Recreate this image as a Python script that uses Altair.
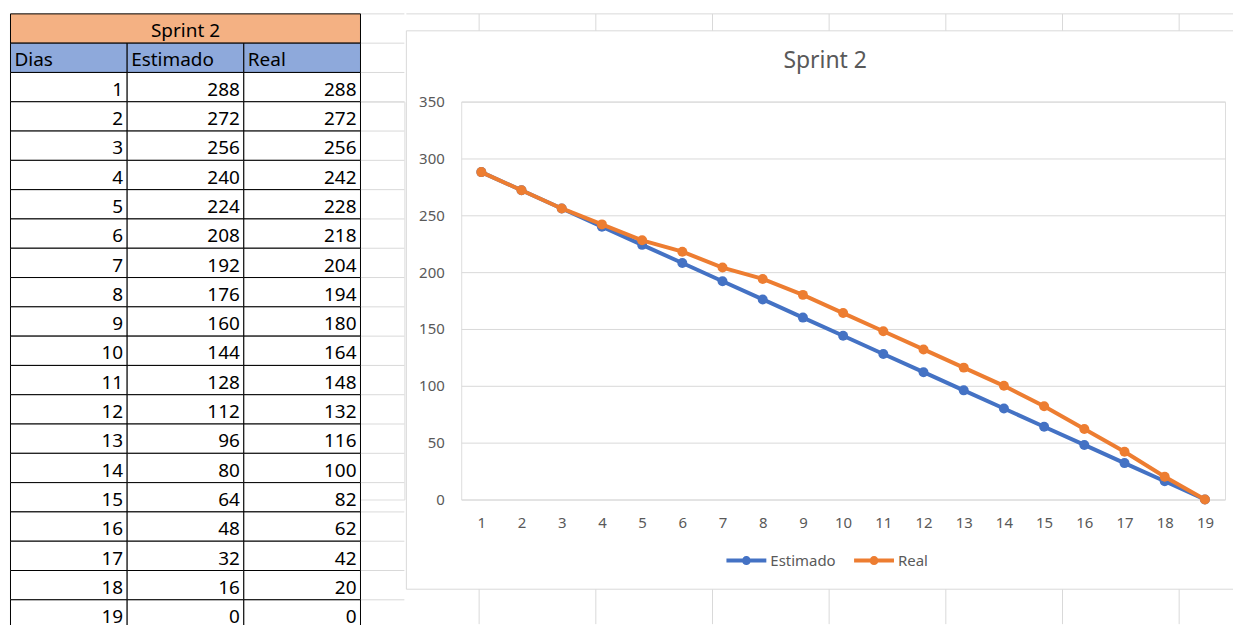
import altair as alt
import pandas as pd

# ---------------- data ----------------
sheet_title = "Sprint 2"
headers = ["Dias", "Estimado", "Real"]
dias = list(range(1, 20))
estimado = [288, 272, 256, 240, 224, 208, 192, 176, 160, 144, 128, 112, 96, 80, 64, 48, 32, 16, 0]
real = [288, 272, 256, 242, 228, 218, 204, 194, 180, 164, 148, 132, 116, 100, 82, 62, 42, 20, 0]
series = ["Estimado", "Real"]
y_ticks = [0, 50, 100, 150, 200, 250, 300, 350]

# ---------------- styles ----------------
BLUE = "#4472C4"
ORANGE = "#ED7D31"
HEAD1 = "#F4B183"
HEAD2 = "#8EA9DB"
GRID = "#D9D9D9"
TXT = "#595959"
FONT = "Noto Sans"

ROW_H = 29.38
COL_W = 117.0
TW = 395          # table panel width (table + gap to chart box)
PW, PH = 766, 399  # plot area of the line chart
TOP = -88          # table top, relative to the plot-area top

# ---------------- table panel ----------------
cells = [dict(c0=0, c1=3, r0=0, r1=1, fill=HEAD1)]
for j, h in enumerate(headers):
    cells.append(dict(c0=j, c1=j + 1, r0=1, r1=2, fill=HEAD2))
for i in range(len(dias)):
    for j in range(3):
        cells.append(dict(c0=j, c1=j + 1, r0=i + 2, r1=i + 3, fill="#FFFFFF"))
cells_df = pd.DataFrame(cells)

xs = alt.Scale(domain=[0, TW / COL_W], nice=False, zero=False)
ys = alt.Scale(domain=[0, 21], range=[TOP, TOP + 21 * ROW_H], nice=False, zero=False)

gap_df = pd.DataFrame({"a": [3.0] * 22, "b": [TW / COL_W] * 22, "r": list(range(22))})
gap_rules = alt.Chart(gap_df).mark_rule(color=GRID, strokeWidth=1).encode(
    x=alt.X("a:Q", scale=xs, axis=None), x2="b",
    y=alt.Y("r:Q", scale=ys, axis=None),
)

rects = alt.Chart(cells_df).mark_rect(stroke="#000000", strokeWidth=1).encode(
    x=alt.X("c0:Q", scale=xs, axis=None), x2="c1",
    y=alt.Y("r0:Q", scale=ys, axis=None), y2="r1",
    fill=alt.Fill("fill:N", scale=None),
)

title_df = pd.DataFrame({"t": [sheet_title], "x": [1.5], "r": [1]})
title_txt = alt.Chart(title_df).mark_text(
    align="center", baseline="alphabetic", dy=-6, font=FONT, fontSize=19, color="#000000"
).encode(x=alt.X("x:Q", scale=xs, axis=None), y=alt.Y("r:Q", scale=ys, axis=None), text="t:N")

head_df = pd.DataFrame({"t": headers, "x": [0, 1, 2], "r": [2, 2, 2]})
head_txt = alt.Chart(head_df).mark_text(
    align="left", baseline="alphabetic", dx=4, dy=-6, font=FONT, fontSize=19, color="#000000"
).encode(x=alt.X("x:Q", scale=xs, axis=None), y=alt.Y("r:Q", scale=ys, axis=None), text="t:N")

vals = []
for i, d in enumerate(dias):
    for j, v in enumerate([d, estimado[i], real[i]]):
        vals.append(dict(t=str(v), x=j + 1, r=i + 3))
vals_df = pd.DataFrame(vals)
val_txt = alt.Chart(vals_df).mark_text(
    align="right", baseline="alphabetic", dx=-4, dy=-6, font=FONT, fontSize=19, color="#000000"
).encode(x=alt.X("x:Q", scale=xs, axis=None), y=alt.Y("r:Q", scale=ys, axis=None), text="t:N")

table = alt.layer(gap_rules, rects, title_txt, head_txt, val_txt).properties(width=TW, height=PH)

# ---------------- line chart panel ----------------
long_df = pd.DataFrame({
    "Dia": dias * 2,
    "Serie": ["Estimado"] * len(dias) + ["Real"] * len(dias),
    "Valor": estimado + real,
})

SYMBOL = ("M-1,0H1 "
          "M0.125,0A0.125,0.125,0,1,1,-0.125,0A0.125,0.125,0,1,1,0.125,0Z")

legend = alt.Legend(
    title=None, orient="none", legendX=716, legendY=438, direction="horizontal",
    symbolType=SYMBOL, symbolSize=1600, symbolStrokeWidth=4, symbolOpacity=1,
    labelFont=FONT, labelFontSize=15,
    labelColor=TXT, labelOffset=2, columnPadding=10, padding=0,
)
color = alt.Color("Serie:N", scale=alt.Scale(domain=series, range=[BLUE, ORANGE]), legend=legend)
xenc = alt.X("Dia:O", axis=alt.Axis(
    title=None, labelAngle=0, domain=False, ticks=False, grid=False, labelPadding=16,
    labelFont=FONT, labelFontSize=15, labelColor=TXT))
yenc = alt.Y("Valor:Q", scale=alt.Scale(domain=[0, 350], nice=False), axis=alt.Axis(
    title=None, values=y_ticks, domain=False, ticks=False, labelPadding=17,
    labelFont=FONT, labelFontSize=15, labelColor=TXT, gridColor=GRID, gridWidth=1))

one = pd.DataFrame({"k": [0]})
decor = []
# excel cell grid line at top and chart-area border
decor.append(alt.Chart(one).mark_rule(color=GRID, strokeWidth=1).encode(
    x=alt.value(-55), x2=alt.value(774), y=alt.value(-88)))
decor.append(alt.Chart(one).mark_rule(color=GRID, strokeWidth=1).encode(
    x=alt.value(-55), x2=alt.value(774), y=alt.value(-71)))
decor.append(alt.Chart(one).mark_rule(color=GRID, strokeWidth=1).encode(
    x=alt.value(-55), x2=alt.value(774), y=alt.value(489)))
decor.append(alt.Chart(one).mark_rule(color=GRID, strokeWidth=1).encode(
    x=alt.value(-55), y=alt.value(-71), y2=alt.value(489)))
for v in [18, 135, 252, 369, 486, 603, 720]:
    decor.append(alt.Chart(one).mark_rule(color=GRID, strokeWidth=1).encode(
        x=alt.value(v), y=alt.value(-88), y2=alt.value(-71)))
    decor.append(alt.Chart(one).mark_rule(color=GRID, strokeWidth=1).encode(
        x=alt.value(v), y=alt.value(489), y2=alt.value(524)))

series_layers = []
for s in series:
    b = alt.Chart(long_df).transform_filter(alt.datum.Serie == s).encode(x=xenc, y=yenc, color=color)
    series_layers.append(b.mark_line(strokeWidth=4))
    series_layers.append(b.mark_point(filled=True, size=100, opacity=1))

line_chart = alt.layer(*decor, *series_layers).properties(
    width=PW, height=PH,
    title=alt.TitleParams(sheet_title, frame="group", anchor="middle", dx=-18, offset=-78,
                          baseline="alphabetic", font=FONT, fontSize=23, color=TXT,
                          fontWeight="normal"),
)

chart = alt.hconcat(table, line_chart, spacing=0).properties(
    padding={"left": 1.5, "top": 4, "right": 0, "bottom": 0}
).configure_view(strokeWidth=0).configure(background="white")

chart.save("out.html", embed_options={"renderer": "svg", "actions": False})
